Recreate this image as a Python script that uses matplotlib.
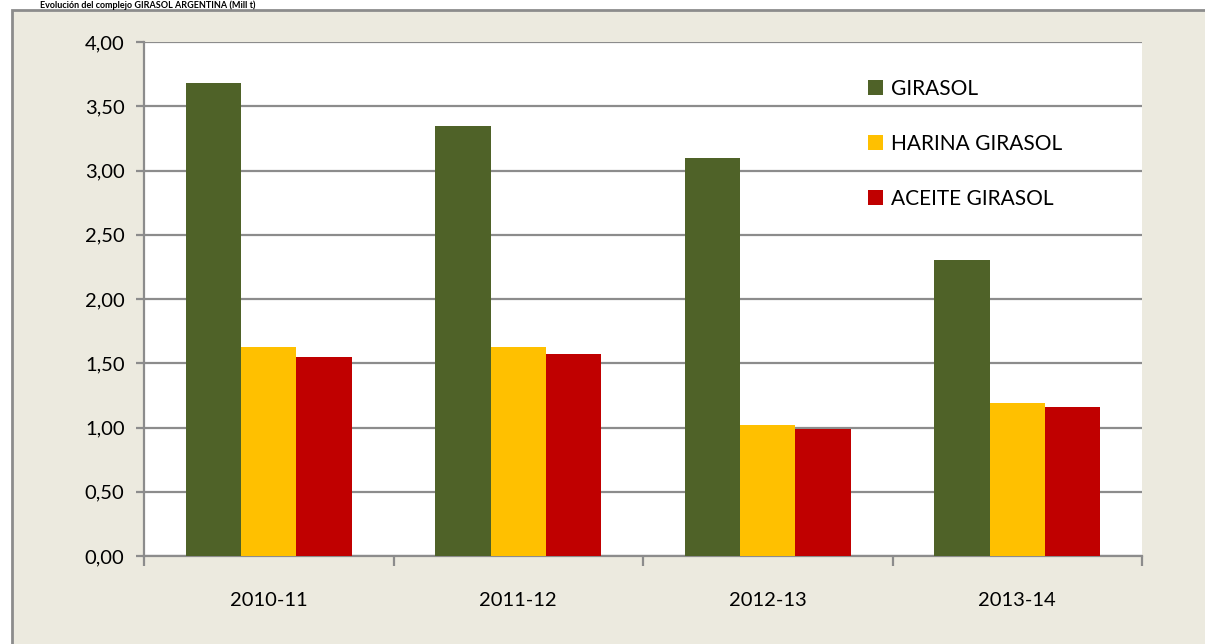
import matplotlib
matplotlib.use('Agg')
import matplotlib.pyplot as plt
import numpy as np
from matplotlib.patches import Rectangle

# data
campaigns = ['2010-11', '2011-12', '2012-13', '2013-14']
girasol = [3.68, 3.35, 3.10, 2.30]
harina_girasol = [1.63, 1.63, 1.02, 1.19]
aceite_girasol = [1.55, 1.57, 0.99, 1.16]
series_names = ['GIRASOL', 'HARINA GIRASOL', 'ACEITE GIRASOL']
series_colors = ['#4F6228', '#FFC000', '#C00000']
y_ticks = [0, 0.5, 1.0, 1.5, 2.0, 2.5, 3.0, 3.5, 4.0]

plt.rcParams['font.family'] = ['Lato', 'DejaVu Sans']
grey = '#8C8C8C'

fig = plt.figure(figsize=(12.05, 6.44), dpi=100)
fig.patch.set_facecolor('white')

# beige frame behind the chart (cut on the right and bottom like the source)
fig.patches.append(Rectangle((12 / 1205, -0.05), 1.1, 1 - 10 / 644 + 0.05,
                             transform=fig.transFigure, facecolor='#ECEADF',
                             edgecolor=grey, linewidth=2, zorder=-5))

# title squeezed into the thin white strip above the frame
fig.text(40 / 1205, 1 - 0.5 / 644, 'Evolución del complejo GIRASOL ARGENTINA (Mill t)',
         fontsize=6.5, fontweight='bold', ha='left', va='top', color='black')

ax = fig.add_axes([144 / 1205, 1 - 556 / 644, (1142 - 144) / 1205, (556 - 42) / 644])
ax.set_facecolor('white')
ax.set_zorder(2)

x = np.arange(len(campaigns))
width = 0.222
values = [girasol, harina_girasol, aceite_girasol]
for i, (vals, name, col) in enumerate(zip(values, series_names, series_colors)):
    ax.bar(x + (i - 1) * width, vals, width, color=col, label=name, zorder=3)

ax.set_xlim(-0.5, len(campaigns) - 0.5)
ax.set_ylim(0, 4)
ax.set_yticks(y_ticks)
ax.set_yticklabels(['{:.2f}'.format(v).replace('.', ',') for v in y_ticks], fontsize=14.5)
ax.yaxis.grid(True, color=grey, linewidth=1.6, zorder=0)
ax.set_axisbelow(True)

ax.set_xticks(x)
ax.set_xticklabels(campaigns, fontsize=14.5)
ax.set_xticks(np.arange(len(campaigns) + 1) - 0.5, minor=True)
ax.tick_params(axis='x', which='major', length=0, pad=26)
ax.tick_params(axis='x', which='minor', length=7, width=1.6, color=grey, direction='out')
ax.tick_params(axis='y', length=6, width=1.6, color=grey, direction='out', pad=8)

for s in ['top', 'right']:
    ax.spines[s].set_visible(False)
for s in ['left', 'bottom']:
    ax.spines[s].set_color(grey)
    ax.spines[s].set_linewidth(1.6)

ax.legend(loc='upper left', bbox_to_anchor=(868 / 1205, 1 - 79 / 644),
          bbox_transform=fig.transFigure, frameon=False, fontsize=15,
          handlelength=0.7, handleheight=0.7, handletextpad=0.4,
          labelspacing=1.68, borderpad=0, borderaxespad=0)

fig.savefig('out.png', dpi=100)
